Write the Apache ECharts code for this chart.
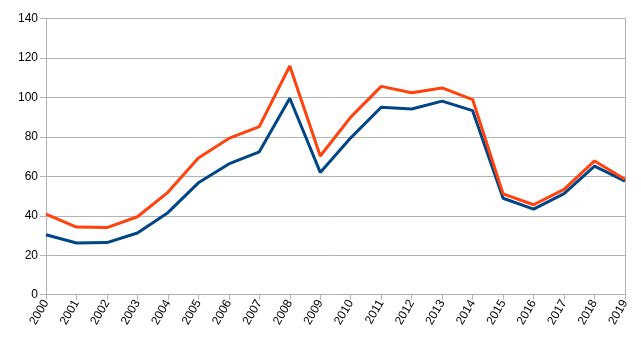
<!DOCTYPE html>
<html>
<head>
<meta charset="utf-8">
<script src="https://cdn.jsdelivr.net/npm/echarts@6/dist/echarts.min.js"></script>
<style>
  html, body { margin: 0; padding: 0; background: #ffffff; }
  #chart { width: 641px; height: 343px; }
</style>
</head>
<body>
<div id="chart"></div>
<script>
// Years along the horizontal axis
const years = ['2000','2001','2002','2003','2004','2005','2006','2007','2008','2009',
               '2010','2011','2012','2013','2014','2015','2016','2017','2018','2019'];

// Upper (orange) series
const seriesOrange = [40.9, 34.3, 34.0, 39.5, 51.9, 69.3, 79.2, 85.2, 115.9, 70.3,
                      90.0, 105.6, 102.4, 104.8, 98.9, 51.1, 45.6, 53.4, 67.8, 58.5];

// Lower (blue) series
const seriesBlue = [30.4, 26.2, 26.4, 31.3, 41.6, 56.7, 66.3, 72.4, 99.6, 62.0,
                    79.5, 95.0, 94.1, 98.1, 93.3, 48.9, 43.4, 51.2, 65.2, 57.6];

// Y axis range and step
const yMin = 0, yMax = 140, yStep = 20;

const axisGray = '#b3b3b3';
const textColor = '#000000';
const font = '"Liberation Sans", Arial, sans-serif';

const chart = echarts.init(document.getElementById('chart'), null, { renderer: 'canvas' });

chart.setOption({
  animation: false,
  backgroundColor: '#ffffff',
  grid: { left: 46, right: 16, top: 18.5, bottom: 48.3, containLabel: false },
  xAxis: {
    type: 'category',
    data: years,
    boundaryGap: false,
    axisLine: { show: true, lineStyle: { color: axisGray, width: 1 } },
    axisTick: { show: true, alignWithLabel: true, length: 5, lineStyle: { color: axisGray } },
    axisLabel: {
      interval: 0, rotate: 60, margin: 6,
      color: textColor, fontFamily: font, fontSize: 12
    },
    splitLine: { show: false }
  },
  yAxis: [
    {
      type: 'value',
      min: yMin, max: yMax, interval: yStep,
      axisLine: { show: true, lineStyle: { color: axisGray, width: 1 } },
      axisTick: { show: true, length: 6, lineStyle: { color: axisGray } },
      axisLabel: { margin: 8, color: textColor, fontFamily: font, fontSize: 12 },
      splitLine: { show: true, lineStyle: { color: axisGray, width: 1 } }
    },
    {
      // right-hand frame edge of the plot area
      type: 'value',
      position: 'right',
      min: yMin, max: yMax, interval: yStep,
      axisLine: { show: true, lineStyle: { color: axisGray, width: 1 } },
      axisTick: { show: false },
      axisLabel: { show: false },
      splitLine: { show: false }
    }
  ],
  series: [
    {
      name: 'A',
      type: 'line',
      data: seriesOrange,
      symbol: 'none',
      lineStyle: { color: '#ff420e', width: 3 },
      itemStyle: { color: '#ff420e' },
      z: 3
    },
    {
      name: 'B',
      type: 'line',
      data: seriesBlue,
      symbol: 'none',
      lineStyle: { color: '#004586', width: 3 },
      itemStyle: { color: '#004586' },
      z: 2
    }
  ]
});
</script>
</body>
</html>
